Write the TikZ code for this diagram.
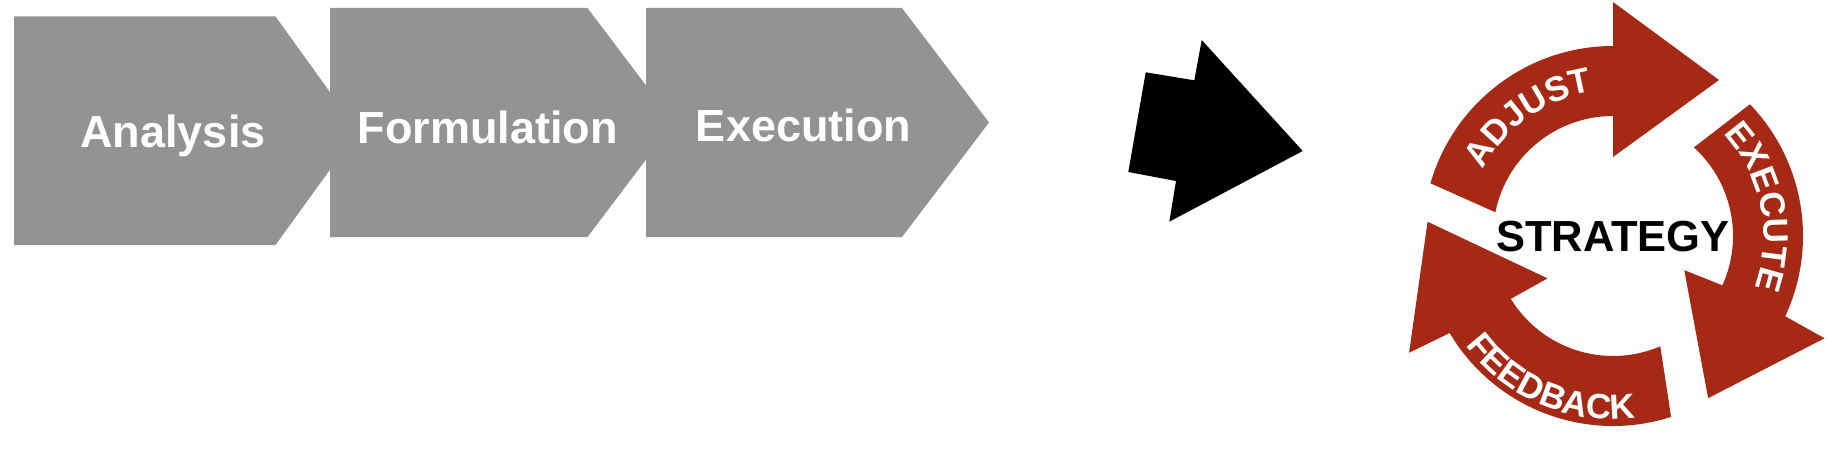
\documentclass[tikz,border=0pt]{standalone}
\usepackage{fontspec}
\setmainfont{Liberation Sans}
\usetikzlibrary{decorations.text}

\definecolor{stepgray}{RGB}{147,147,147}
\definecolor{cyclered}{RGB}{166,41,22}

\tikzset{
	stepbox/.style={fill=stepgray},
	steplabel/.style={text=white, anchor=base, inner sep=0pt, font=\bfseries\fontsize{45}{54}\selectfont},
	cyclearrow/.style={fill=cyclered},
	cyclelabel/.style={decorate, decoration={text along path, text align=center, text color=white,
		text={|\bfseries\fontsize{35}{40}\selectfont|#1}}},
}

\begin{document}
\begin{tikzpicture}[x=1pt, y=1pt]
		\useasboundingbox (0,0) rectangle (1846,448);
		
		% the three steps
		\fill[stepbox] (14,431.5) -- (275.5,431.5) -- (358,317) -- (275.5,203) -- (14,203) -- cycle;
		\fill[stepbox] (330,440) -- (587.5,440) -- (674,325.5) -- (587.5,211) -- (330,211) -- cycle;
		\fill[stepbox] (646,440) -- (902,440) -- (989,325.5) -- (902,211) -- (646,211) -- cycle;
		
		\node[steplabel] (analysis) at (173,301) {Analysis};
		\node[steplabel] (formulation) at (487.5,305) {Formulation};
		\node[steplabel] (execution) at (803.5,306) {Execution};
		
		% big arrow
		\fill (1145.7,375.7) -- (1194.3,367.7) -- (1201.7,408) -- (1302.7,297)
			-- (1169.3,226.3) -- (1176,267) -- (1128.3,276) -- cycle;
		
		% strategy cycle
		\begin{scope}[shift={(1613,212)}]
			\fill[cyclearrow] (163.9:190) arc[start angle=163.9, end angle=90, radius=190]
				-- (0,234) -- (106,156) -- (0,79)
				-- (90:120) arc[start angle=90, end angle=168.6, radius=120] -- cycle;
			\fill[cyclearrow] (43.9:190) arc[start angle=43.9, end angle=-25, radius=190]
				-- (-25.8:235) -- (-59.6:188) -- (-25.6:79)
				-- (-24.3:120) arc[start angle=-24.3, end angle=47.6, radius=120] -- cycle;
			\fill[cyclearrow] (-72.2:190) arc[start angle=-72.2, end angle=-149.3, radius=190]
				-- (-150.2:235) -- (175.6:186) -- (-147.1:78)
				-- (-148.4:120) arc[start angle=-148.4, end angle=-66.8, radius=120] -- cycle;
			
			\path[cyclelabel=ADJUST] (165.5:145.5) arc[start angle=165.5, end angle=85.5, radius=145.5];
			\path[cyclelabel=EXECUTE] (61.3:150.5) arc[start angle=61.3, end angle=-38.7, radius=150.5];
			\path[cyclelabel=FEEDBACK] (196.8:183.5) arc[start angle=196.8, end angle=296.8, radius=183.5];
			
			\node[anchor=base, inner sep=0pt, font=\bfseries\fontsize{43.5}{50}\selectfont] (strategy) at (0,-15.7) {STRATEGY};
		\end{scope}
		
	\end{tikzpicture}
\end{document}
